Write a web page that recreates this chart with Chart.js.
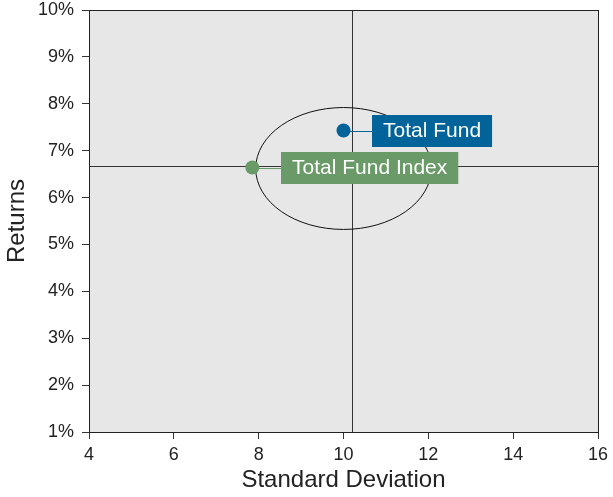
<!DOCTYPE html>
<html>
<head>
<meta charset="utf-8">
<script src="https://cdn.jsdelivr.net/npm/chart.js@4.4.0/dist/chart.umd.min.js"></script>
<style>
  html, body { margin: 0; padding: 0; background: #fff; }
  #wrap { width: 613px; height: 497px; }
</style>
</head>
<body>
<div id="wrap"><canvas id="riskChart" width="613" height="497"></canvas></div>
<script>
  // data
  const seriesNames = ['Total Fund', 'Total Fund Index'];
  const stdDev = [10.0, 7.85];
  const returns = [7.43, 6.64];
  const seriesColors = ['#00639a', '#699a67'];

  const xRange = [4, 16, 2];     // min, max, step
  const yRange = [1, 10, 1];     // min, max, step (%)

  const crossX = 10.2;           // vertical divider
  const crossY = 6.68;           // horizontal divider
  const ellipseCenter = [10.0, 6.62];
  const ellipseRadius = [2.07, 1.30];

  const ctx = document.getElementById('riskChart').getContext('2d');

  const riskPlugin = {
    id: 'riskPlugin',
    beforeDraw(chart) {
      const { ctx, chartArea: a } = chart;
      ctx.save();
      ctx.fillStyle = '#e7e7e7';
      ctx.fillRect(a.left, a.top, a.right - a.left, a.bottom - a.top);
      ctx.restore();
    },
    beforeDatasetsDraw(chart) {
      const { ctx, chartArea: a, scales: { x, y } } = chart;
      ctx.save();
      // crosshair
      ctx.strokeStyle = '#333';
      ctx.lineWidth = 1;
      const cx = Math.round(x.getPixelForValue(crossX)) + 0.5;
      const cy = Math.round(y.getPixelForValue(crossY)) + 0.5;
      ctx.beginPath();
      ctx.moveTo(cx, a.top); ctx.lineTo(cx, a.bottom);
      ctx.moveTo(a.left, cy); ctx.lineTo(a.right, cy);
      ctx.stroke();

      // ellipse
      const ex = x.getPixelForValue(ellipseCenter[0]);
      const ey = y.getPixelForValue(ellipseCenter[1]);
      const rx = Math.abs(x.getPixelForValue(ellipseCenter[0] + ellipseRadius[0]) - ex);
      const ry = Math.abs(y.getPixelForValue(ellipseCenter[1] + ellipseRadius[1]) - ey);
      ctx.strokeStyle = '#111';
      ctx.beginPath();
      ctx.ellipse(ex, ey, rx, ry, 0, 0, Math.PI * 2);
      ctx.stroke();

      // connectors
      stdDev.forEach((v, i) => {
        const px = x.getPixelForValue(v);
        const py = Math.round(y.getPixelForValue(returns[i])) + 0.5;
        ctx.strokeStyle = seriesColors[i];
        ctx.beginPath();
        ctx.moveTo(px, py); ctx.lineTo(px + 30, py);
        ctx.stroke();
      });
      ctx.restore();
    },
    afterDatasetsDraw(chart) {
      const { ctx, scales: { x, y } } = chart;
      ctx.save();
      ctx.font = '21px "Liberation Sans", Arial, sans-serif';
      ctx.textBaseline = 'middle';
      // draw index label first so fund label sits on top
      [1, 0].forEach(i => {
        const px = x.getPixelForValue(stdDev[i]);
        const py = y.getPixelForValue(returns[i]);
        const w = ctx.measureText(seriesNames[i]).width + 22;
        const left = Math.round(px + 28.5);
        ctx.fillStyle = seriesColors[i];
        ctx.fillRect(left, Math.round(py - 16), w, 32);
        ctx.fillStyle = '#fff';
        ctx.fillText(seriesNames[i], left + 11, py + 1);
      });
      ctx.restore();
    },
    afterDraw(chart) {
      const { ctx, chartArea: a } = chart;
      ctx.save();
      ctx.strokeStyle = '#222';
      ctx.lineWidth = 1;
      ctx.strokeRect(Math.round(a.left) + 0.5, Math.round(a.top) + 0.5,
        Math.round(a.right - a.left), Math.round(a.bottom - a.top));
      ctx.restore();
    }
  };

  new Chart(ctx, {
    type: 'scatter',
    data: {
      datasets: seriesNames.map((name, i) => ({
        label: name,
        data: [{ x: stdDev[i], y: returns[i] }],
        backgroundColor: seriesColors[i],
        borderWidth: 0,
        pointRadius: 7,
        pointHoverRadius: 7
      }))
    },
    options: {
      responsive: false,
      animation: false,
      layout: { padding: { top: 10, right: 15, bottom: 2, left: 0 } },
      plugins: { legend: { display: false }, tooltip: { enabled: false } },
      scales: {
        x: {
          min: xRange[0], max: xRange[1],
          afterFit(scale) { scale.height = 63; scale.paddingLeft = 0; scale.paddingRight = 0; },
          ticks: { stepSize: xRange[2], color: '#222', padding: 5, font: { size: 18, family: '"Liberation Sans", Arial, sans-serif' } },
          grid: { display: true, drawOnChartArea: false, tickLength: 7, color: '#333' },
          border: { color: '#222' },
          title: { display: true, text: 'Standard Deviation', color: '#222', padding: 0,
            font: { size: 24, family: '"Liberation Sans", Arial, sans-serif' } }
        },
        y: {
          min: yRange[0], max: yRange[1],
          afterFit(scale) { scale.width = 89; scale.paddingTop = 0; scale.paddingBottom = 0; },
          ticks: { stepSize: yRange[2], color: '#222', padding: 8,
            callback: v => v + '%',
            font: { size: 18, family: '"Liberation Sans", Arial, sans-serif' } },
          grid: { display: true, drawOnChartArea: false, tickLength: 7, color: '#333' },
          border: { color: '#222' },
          title: { display: true, text: 'Returns', color: '#222', padding: { top: 3, bottom: 0 },
            font: { size: 24, family: '"Liberation Sans", Arial, sans-serif' } }
        }
      }
    },
    plugins: [riskPlugin]
  });
</script>
</body>
</html>
